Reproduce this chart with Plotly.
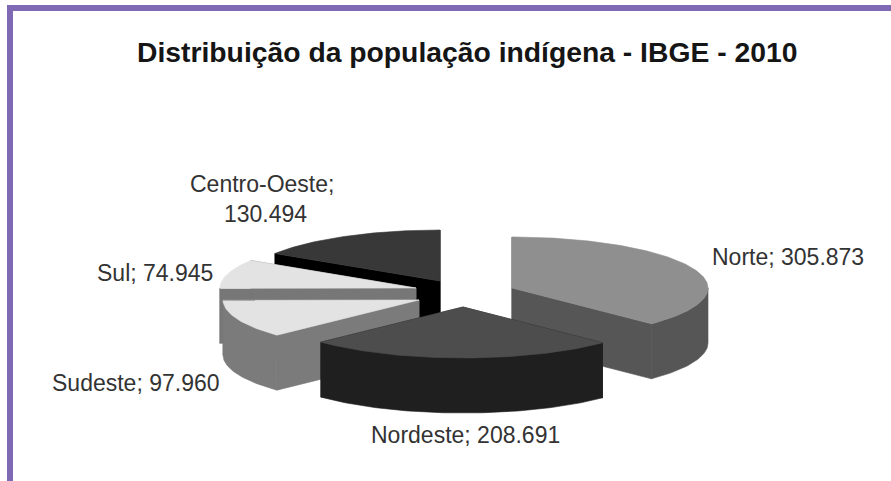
import math
import plotly.graph_objects as go

TITLE = "Distribuição da população indígena - IBGE - 2010"
categories = ["Norte", "Nordeste", "Sudeste", "Sul", "Centro-Oeste"]
values = [305873, 208691, 97960, 74945, 130494]

# presentation
top_colors = {"Norte": "#8f8f8f", "Nordeste": "#4d4d4d", "Sudeste": "#e3e3e3", "Sul": "#e3e3e3", "Centro-Oeste": "#383838"}
wall_colors = {"Norte": "#565656", "Nordeste": "#1f1f1f", "Sudeste": "#7b7b7b", "Sul": "#777777", "Centro-Oeste": "#000000"}
apex = {"Norte": (512, 288), "Nordeste": (463, 307), "Sudeste": (419, 300), "Sul": (416, 288), "Centro-Oeste": (440, 281)}
draw_order = ["Centro-Oeste", "Sul", "Sudeste", "Norte", "Nordeste"]
RX, RY, DEPTH = 196, 51, 55
FONT = "Liberation Sans, Arial, sans-serif"

def fmt(v):
    return f"{v:,}".replace(",", ".")

total = sum(values)
spans, a = {}, 0.0
for c, v in zip(categories, values):
    spans[c] = (a, a + 360.0 * v / total)
    a = spans[c][1]

def rim(c, a0=None, a1=None):
    a0 = spans[c][0] if a0 is None else a0
    a1 = spans[c][1] if a1 is None else a1
    n = max(8, int(a1 - a0))
    cx, cy = apex[c]
    pts = []
    for i in range(n + 1):
        t = math.radians(a0 + (a1 - a0) * i / n)
        pts.append((cx + RX * math.sin(t), cy - RY * math.cos(t)))
    return pts

fig = go.Figure()

def poly(pts, color):
    xs = [p[0] for p in pts] + [pts[0][0]]
    ys = [p[1] for p in pts] + [pts[0][1]]
    fig.add_trace(go.Scatter(x=xs, y=ys, mode="lines", fill="toself", fillcolor=color,
                             line=dict(color=color, width=0.6), hoverinfo="skip", showlegend=False))

for c in draw_order:
    r = rim(c)
    ap = apex[c]
    wall = wall_colors[c]
    down = lambda p: (p[0], p[1] + DEPTH)
    poly([ap, r[0], down(r[0]), down(ap)], wall)
    poly([ap, r[-1], down(r[-1]), down(ap)], wall)
    # outer wall: only the front-facing part of the rim
    lo, hi = max(spans[c][0], 90.0), min(spans[c][1], 270.0)
    if hi > lo:
        front = rim(c, lo, hi)
        poly(front + [down(p) for p in reversed(front)], wall)
    poly([ap] + r, top_colors[c])

labels = [
    (f"Norte; {fmt(values[0])}", 788, 257),
    (f"Nordeste; {fmt(values[1])}", 465, 435),
    (f"Sudeste; {fmt(values[2])}", 136, 383),
    (f"Sul; {fmt(values[3])}", 155, 273),
    ("Centro-Oeste;", 262, 184),
    (fmt(values[4]), 265, 214),
]
annotations = [dict(x=x, y=y, text=t, xref="x", yref="y", showarrow=False, xanchor="center", yanchor="middle",
                    font=dict(family=FONT, size=23, color="#333333")) for t, x, y in labels]
annotations.append(dict(x=467, y=52, text=f"<b>{TITLE}</b>", xref="x", yref="y", showarrow=False,
                        xanchor="center", yanchor="middle", font=dict(family=FONT, size=28.3, color="#151515")))

PURPLE = "#7f69b2"
shapes = [
    dict(type="rect", x0=7, x1=891, y0=5, y1=11, fillcolor=PURPLE, line_width=0, layer="below"),
    dict(type="rect", x0=7, x1=13, y0=5, y1=481, fillcolor=PURPLE, line_width=0, layer="below"),
]

fig.update_layout(
    width=891, height=481, margin=dict(l=0, r=0, t=0, b=0),
    paper_bgcolor="white", plot_bgcolor="white", showlegend=False,
    xaxis=dict(range=[0, 891], visible=False, fixedrange=True),
    yaxis=dict(range=[481, 0], visible=False, fixedrange=True),
    annotations=annotations, shapes=shapes,
)
fig.write_html("out.html", config={"displayModeBar": False},
               post_script="document.body.style.margin='0';document.body.style.overflow='hidden';")
